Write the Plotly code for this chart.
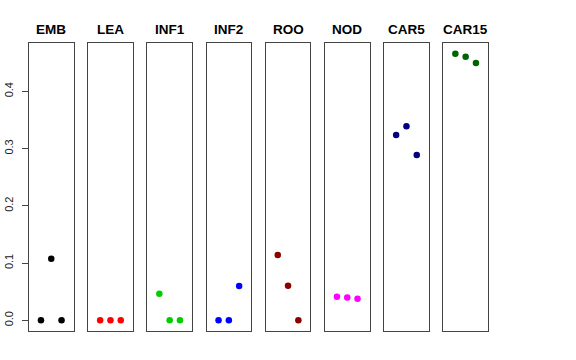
import plotly.graph_objects as go

categories = ["EMB", "LEA", "INF1", "INF2", "ROO", "NOD", "CAR5", "CAR15"]
colors = ["#000000", "#FF0000", "#00CD00", "#0000FF", "#8B0000", "#FF00FF", "#000080", "#006400"]
x_positions = [1, 2, 3]
values = {
    "EMB": [0.0, 0.1076, 0.0],
    "LEA": [0.0, 0.0, 0.0],
    "INF1": [0.0465, 0.0, 0.0],
    "INF2": [0.0, 0.0, 0.060],
    "ROO": [0.114, 0.0605, 0.0],
    "NOD": [0.0413, 0.0400, 0.0378],
    "CAR5": [0.3237, 0.3389, 0.2888],
    "CAR15": [0.4657, 0.4605, 0.4495],
}
y_ticks = [0.0, 0.1, 0.2, 0.3, 0.4]
y_tick_labels = ["0.0", "0.1", "0.2", "0.3", "0.4"]

W, H = 576, 360
fig = go.Figure()
left0, step, pw = 29.0, 59.2, 44.5
top_px, bot_px = 43.0, 331.0
ydom = [1 - bot_px / H, 1 - top_px / H]
yrange = [-0.0187, 0.4844]
xrange_ = [-0.16, 4.16]

annotations = []
for i, cat in enumerate(categories):
    l = left0 + step * i
    xd = [l / W, (l + pw) / W]
    ax = "" if i == 0 else str(i + 1)
    fig.add_trace(go.Scatter(
        x=x_positions, y=values[cat], mode="markers",
        marker=dict(color=colors[i], size=6.5),
        xaxis="x" + ax, yaxis="y" + ax, showlegend=False,
        hoverinfo="y",
    ))
    fig.layout["xaxis" + ax] = dict(
        domain=xd, range=xrange_, showticklabels=False, ticks="",
        showgrid=False, zeroline=False, showline=True, mirror=True,
        linecolor="#444444", linewidth=1, anchor="y" + ax, fixedrange=True,
    )
    ydict = dict(
        domain=ydom, range=yrange, showgrid=False, zeroline=False,
        showline=True, mirror=True, linecolor="#444444", linewidth=1,
        anchor="x" + ax, fixedrange=True,
    )
    if i == 0:
        ydict.update(tickmode="array", tickvals=y_ticks, ticktext=y_tick_labels,
                     ticks="outside", ticklen=6, tickcolor="#444444",
                     tickangle=-90, ticklabelstandoff=5,
                     tickfont=dict(family="Liberation Sans, Arial, sans-serif", size=11, color="#222222"))
    else:
        ydict.update(showticklabels=False, ticks="")
    fig.layout["yaxis" + ax] = ydict
    annotations.append(dict(
        text="<b>" + cat + "</b>", x=(l + pw / 2) / W, y=1 - 29.0 / H,
        xref="paper", yref="paper", showarrow=False, xanchor="center", yanchor="middle",
        font=dict(family="Liberation Sans, Arial, sans-serif", size=13.5, color="#000000"),
    ))

fig.update_layout(
    width=W, height=H, margin=dict(l=0, r=0, t=0, b=0, autoexpand=False),
    paper_bgcolor="white", plot_bgcolor="white", annotations=annotations,
)
fig.write_html("out.html", config={"displayModeBar": False},
               post_script="document.body.style.margin='0';")
